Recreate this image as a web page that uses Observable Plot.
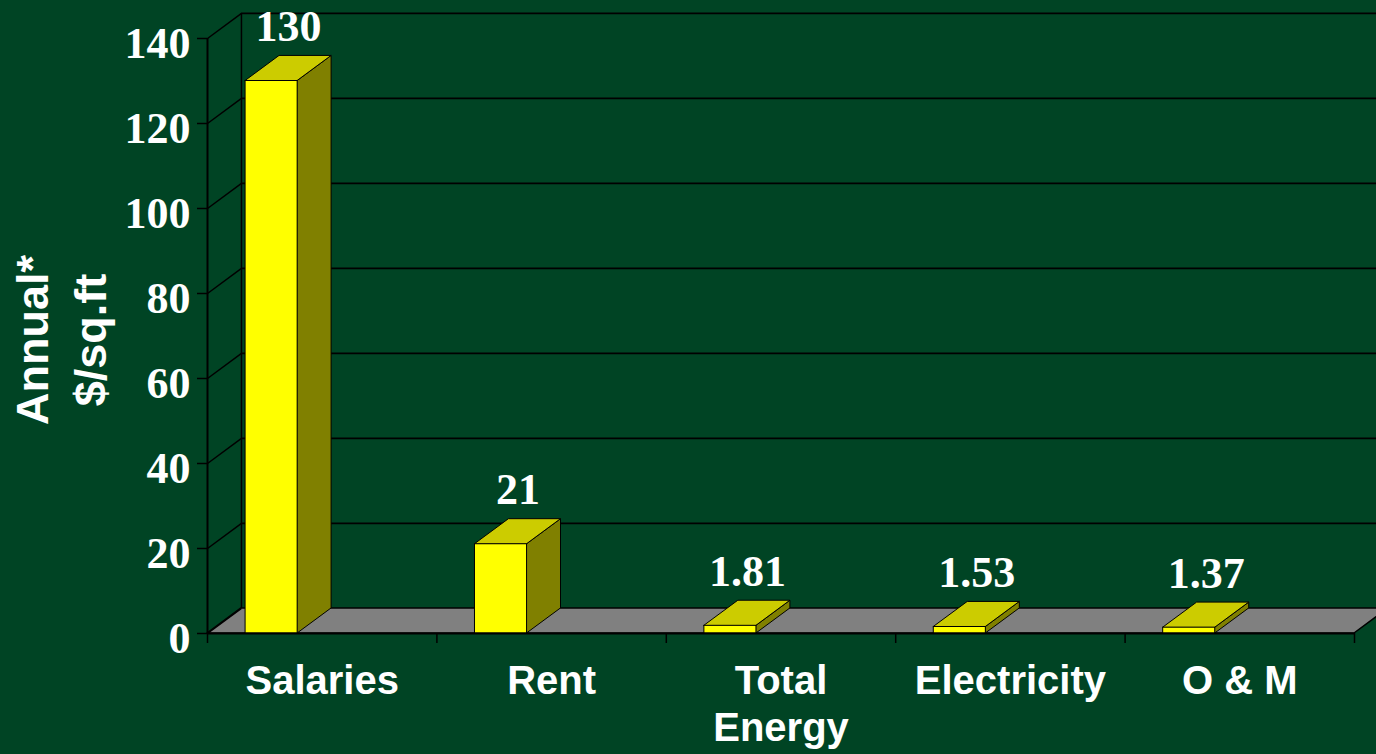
<!DOCTYPE html>
<html>
<head>
<meta charset="utf-8">
<script src="https://cdn.jsdelivr.net/npm/d3@7"></script>
<script src="https://cdn.jsdelivr.net/npm/@observablehq/plot@0.6"></script>
<style>
  html, body { margin: 0; padding: 0; background: #004424; overflow: hidden; }
  #chart svg { display: block; overflow: hidden; }
</style>
</head>
<body>
<div id="chart"></div>
<script>
// ---- data ----
const categories = ["Salaries", "Rent", "Total\nEnergy", "Electricity", "O & M"];
const values = [130, 21, 1.81, 1.53, 1.37];
const valueLabels = ["130", "21", "1.81", "1.53", "1.37"];
const yTicks = [0, 20, 40, 60, 80, 100, 120, 140];
const yAxisTitle = "Annual*\n$/sq.ft";

// ---- 3D styling constants (in scale units) ----
const DX = 0.148;   // depth along x (category units)
const DY = 5.9;     // depth along y (value units)
const OFF = 0.166;  // bar offset in band
const BW = 0.227;   // bar width in band
const N = categories.length;

const rows = categories.map((c, i) => ({ c, i, v: values[i], label: valueLabels[i] }));

const sidePts = rows.flatMap(r => [
  { z: r.c, x: r.i + OFF + BW, y1: 0, y2: r.v },
  { z: r.c, x: r.i + OFF + BW + DX, y1: DY, y2: r.v + DY }
]);
const topPts = rows.flatMap(r => [
  { z: r.c, y: r.v, x1: r.i + OFF, x2: r.i + OFF + BW },
  { z: r.c, y: r.v + DY, x1: r.i + OFF + DX, x2: r.i + OFF + BW + DX }
]);
const floorPts = [
  { y: 0, x1: 0, x2: N },
  { y: DY, x1: DX, x2: N + DX }
];

const serif = "'Liberation Serif', 'Times New Roman', serif";
const sans = "'Liberation Sans', Arial, sans-serif";

const chart = Plot.plot({
  width: 1376,
  height: 754,
  marginTop: 38,
  marginBottom: 121,
  marginLeft: 207,
  marginRight: 22,
  style: { background: "#004424", color: "black", fontFamily: sans, overflow: "hidden" },
  x: { type: "linear", domain: [0, N] },
  y: { domain: [0, 140] },
  marks: [
    // floor
    Plot.areaX(floorPts, { y: "y", x1: "x1", x2: "x2", fill: "#808080", stroke: "black", strokeWidth: 1.5 }),
    // back wall gridlines
    Plot.ruleY(yTicks.slice(1), { y: d => d + DY, x1: DX, x2: N + DX + 0.2, stroke: "black", strokeWidth: 1.8 }),
    // back wall left edge
    Plot.ruleX([DX], { x: d => d, y1: DY, y2: 140 + DY, stroke: "black", strokeWidth: 1.5 }),
    // side wall diagonals
    Plot.link(yTicks, { x1: 0, y1: d => d, x2: DX, y2: d => d + DY, stroke: "black", strokeWidth: 1.5 }),
    // front y axis line
    Plot.ruleX([0], { y1: 0, y2: 140, stroke: "black", strokeWidth: 2 }),
    // bars: side, top, front
    Plot.areaY(sidePts, { x: "x", y1: "y1", y2: "y2", z: "z", fill: "#808000", stroke: "black", strokeWidth: 1 }),
    Plot.areaX(topPts, { y: "y", x1: "x1", x2: "x2", z: "z", fill: "#cccc00", stroke: "black", strokeWidth: 1 }),
    Plot.rectY(rows, { x1: d => d.i + OFF, x2: d => d.i + OFF + BW, y1: 0, y2: "v", fill: "#ffff00", stroke: "black", strokeWidth: 1 }),
    // x axis ticks
    Plot.axisX({ ticks: d3.range(N + 1), tickSize: 10, tickFormat: () => "", stroke: "black", strokeWidth: 1.5 }),
    Plot.ruleY([0], { x1: 0, x2: N, stroke: "black", strokeWidth: 2 }),
    // y axis ticks and labels
    Plot.axisY({ ticks: yTicks, tickSize: 10, tickFormat: () => "", stroke: "black", strokeWidth: 1.5 }),
    Plot.axisY({ ticks: yTicks, tickSize: 0, tickPadding: 17, dy: 5, fill: "white", fontSize: 44, fontWeight: "bold", fontFamily: serif, tickFormat: d => String(d) }),
    // value labels
    Plot.text(rows, { x: d => d.i + OFF + BW / 2 + DX / 2, y: d => d.v + DY, text: "label", dy: -15, lineAnchor: "bottom", fill: "white", fontSize: 44, fontWeight: "bold", fontFamily: serif }),
    // category labels
    Plot.text(rows, { x: d => d.i + 0.5, y: 0, text: "c", dy: 27, lineAnchor: "top", lineHeight: 1.17, fill: "white", fontSize: 40, fontWeight: "bold", fontFamily: sans }),
    // y axis title
    Plot.text([yAxisTitle], { frameAnchor: "left", rotate: -90, dx: -149, dy: 4, textAnchor: "middle", lineAnchor: "middle", lineHeight: 1.3, fill: "white", fontSize: 45, fontWeight: "bold", fontFamily: sans })
  ]
});
document.getElementById("chart").appendChild(chart);
</script>
</body>
</html>
